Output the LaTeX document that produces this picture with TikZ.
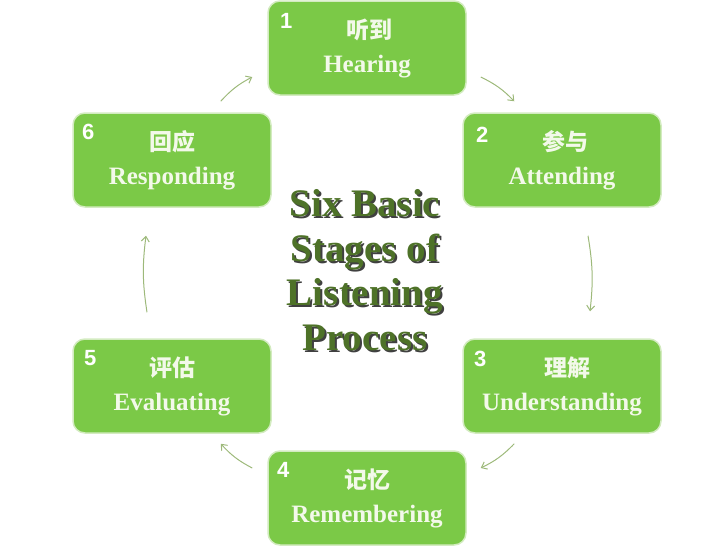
\documentclass[tikz,border=0pt]{standalone}
\usepackage{fontspec}
\setmainfont{Liberation Serif}
\newfontfamily\cjk{Noto Sans CJK SC}
\newfontfamily\chiffre{Liberation Sans}
\usetikzlibrary{calc,arrows.meta}
\definecolor{vert}{HTML}{7BC947}
\definecolor{bord}{HTML}{D3EBC0}
\definecolor{fleche}{HTML}{9DB97A}
\definecolor{titre}{HTML}{4E7228}
\definecolor{texte}{HTML}{F3F9EA}
\newcommand{\ombre}[1]{\leavevmode\rlap{\kern2pt\raisebox{-2pt}{\color{black!75}#1}}#1}

\tikzset{
  etape/.style={rectangle, rounded corners=12pt, fill=vert, draw=bord,
    line width=1.5pt, minimum width=198pt, minimum height=94pt,
    inner sep=0pt, align=center, text=texte,
    font=\fontsize{25}{34}\selectfont\bfseries},
  numero/.style={text=white, inner sep=0pt,
    font=\chiffre\fontsize{22}{22}\selectfont\bfseries},
  fleche/.style={draw=fleche, line width=1pt, -{Straight Barb[length=5pt,width=8pt]}},
  grandtitre/.style={align=center, inner sep=0pt, text=titre,
    font=\fontsize{39}{44.5}\selectfont\bfseries}
}

\begin{document}
\begin{tikzpicture}[x=1pt,y=-1pt]
  \useasboundingbox (0,0) rectangle (728,546);

  % Titre.
  \node[grandtitre] (titre) at (365,271)
    {\ombre{Six Basic}\\\ombre{Stages of}\\\ombre{Listening}\\\ombre{Process}};

  % Etapes.
  \node[etape] (h1) at (367,48)  {{\cjk\bfseries\fontsize{23}{23}\selectfont\hspace{4pt}听到}\\Hearing};
  \node[etape] (h2) at (562,160) {{\cjk\bfseries\fontsize{23}{23}\selectfont\hspace{6pt}参与}\\Attending};
  \node[etape] (h3) at (562,386) {{\cjk\bfseries\fontsize{23}{23}\selectfont\hspace{10pt}理解}\\Understanding};
  \node[etape] (h4) at (367,498) {{\cjk\bfseries\fontsize{23}{23}\selectfont 记忆}\\Remembering};
  \node[etape] (h5) at (172,386) {{\cjk\bfseries\fontsize{23}{23}\selectfont 评估}\\Evaluating};
  \node[etape] (h6) at (172,160) {{\cjk\bfseries\fontsize{23}{23}\selectfont 回应}\\Responding};

  % Numeros.
  \node[numero] (n1) at ($(h1.north west)+(19,21)$) {1};
  \node[numero] (n2) at ($(h2.north west)+(20,23)$) {2};
  \node[numero] (n3) at ($(h3.north west)+(18,21)$) {3};
  \node[numero] (n4) at ($(h4.north west)+(16,20)$) {4};
  \node[numero] (n5) at ($(h5.north west)+(18,20)$) {5};
  \node[numero] (n6) at ($(h6.north west)+(16,20)$) {6};

  % Fleches.
  \coordinate (d12) at ($(h1.east)+(14,29)$);
  \coordinate (f12) at ($(h2.north west)+(52,-11)$);
  \coordinate (d23) at ($(h2.south)+(26,28)$);
  \coordinate (f23) at ($(h3.north)+(28,-27)$);
  \coordinate (d34) at ($(h3.south west)+(52,10)$);
  \coordinate (f34) at ($(h4.east)+(14,-30)$);
  \coordinate (d45) at ($(h4.west)+(-15,-30)$);
  \coordinate (f45) at ($(h5.south east)+(-51,10)$);
  \coordinate (d56) at ($(h5.north)+(-25,-26)$);
  \coordinate (f56) at ($(h6.south)+(-26,28)$);
  \coordinate (d61) at ($(h6.north east)+(-51,-11)$);
  \coordinate (f61) at ($(h1.west)+(-15,29)$);
  \draw[fleche] (d12) to[bend left=10] (f12);
  \draw[fleche] (d23) to[bend left=8] (f23);
  \draw[fleche] (d34) to[bend left=10] (f34);
  \draw[fleche] (d45) to[bend left=10] (f45);
  \draw[fleche] (d56) to[bend left=8] (f56);
  \draw[fleche] (d61) to[bend left=10] (f61);
\end{tikzpicture}
\end{document}
